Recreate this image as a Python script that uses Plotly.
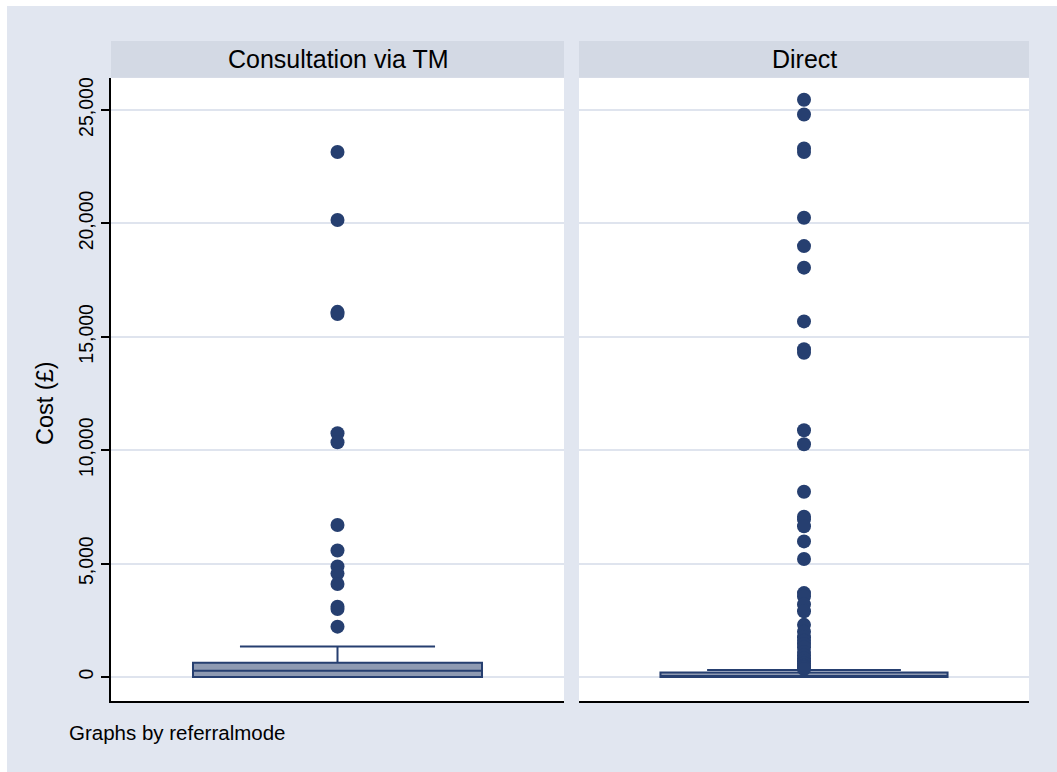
import plotly.graph_objects as go

# ---- data ----
panels = ["Consultation via TM", "Direct"]

tm_q1, tm_median, tm_q3 = 0, 280, 630
tm_lower, tm_upper = 0, 1350
tm_outliers = [23150, 20150, 16100, 16000, 10750, 10350, 6700, 5580,
               4870, 4560, 4100, 3100, 3000, 2220]

dr_q1, dr_median, dr_q3 = 0, 40, 200
dr_lower, dr_upper = 0, 310
dr_outliers = [25450, 24800, 23300, 23150, 20250, 19000, 18050, 15680,
               14450, 14300, 10880, 10260, 8170, 7070, 6950, 6650, 5980,
               5200, 3700, 3550, 3200, 2900, 2300, 2000, 1750, 1600, 1450,
               1300, 1100, 950, 820, 700, 600, 500, 420, 350]

y_ticks = [0, 5000, 10000, 15000, 20000, 25000]
y_ticklabels = ["0", "5,000", "10,000", "15,000", "20,000", "25,000"]

# ---- styling ----
NAVY = "#263f70"
BOXFILL = "#8e9ab2"
BG = "#e1e6f0"
HEAD = "#d3d9e4"
GRID = "#dfe4ee"
FONT = "Liberation Sans, Arial, Helvetica, sans-serif"

W, H = 1057, 772
L, R, T, B = 111, 1029, 78, 701
pw, ph = R - L, B - T


def px_x(p):
    return (p - L) / pw


def px_y(p):
    return (B - p) / ph


fig = go.Figure()

boxes = [
    ("x", "y", tm_q1, tm_median, tm_q3, tm_lower, tm_upper, tm_outliers),
    ("x2", "y2", dr_q1, dr_median, dr_q3, dr_lower, dr_upper, dr_outliers),
]
for xa, ya, q1, med, q3, lo, hi, outs in boxes:
    fig.add_trace(go.Box(
        x=[0], q1=[q1], median=[med], q3=[q3],
        lowerfence=[lo], upperfence=[hi],
        width=1.276, whiskerwidth=0.675,
        fillcolor=BOXFILL, line=dict(color=NAVY, width=2),
        boxpoints=False, xaxis=xa, yaxis=ya, showlegend=False,
        hoverinfo="skip",
    ))
    fig.add_trace(go.Scatter(
        x=[0] * len(outs), y=outs, mode="markers",
        marker=dict(color=NAVY, size=14, line=dict(width=0)),
        xaxis=xa, yaxis=ya, showlegend=False,
    ))

left_dom = [0, px_x(564)]
right_dom = [px_x(579), 1]
yrange = [-1058, 26411]

xcommon = dict(range=[-1, 1], showgrid=False, zeroline=False,
               showticklabels=False, ticks="", showline=True,
               linecolor="black", linewidth=2, fixedrange=True)
fig.update_layout(
    width=W, height=H,
    margin=dict(l=L, r=W - R, t=T, b=H - B, pad=0),
    paper_bgcolor=BG, plot_bgcolor="white",
    font=dict(family=FONT, color="black"),
    xaxis=dict(domain=left_dom, **xcommon),
    xaxis2=dict(domain=right_dom, anchor="y2", **xcommon),
    yaxis=dict(range=yrange, tickvals=y_ticks, ticktext=y_ticklabels,
               tickangle=-90, ticks="outside", ticklen=8, tickwidth=1.5,
               tickcolor="black", showline=True, linecolor="black",
               linewidth=2, showgrid=True, gridcolor=GRID, gridwidth=2,
               zeroline=False, tickfont=dict(size=19.5, family=FONT),
               anchor="x"),
    yaxis2=dict(range=yrange, tickvals=y_ticks, showticklabels=False,
                ticks="", showline=False, showgrid=True, gridcolor=GRID,
                gridwidth=2, zeroline=False, anchor="x2", matches="y"),
)

shapes = [
    # white outer border strips
    dict(type="rect", xref="paper", yref="paper", x0=px_x(0), x1=px_x(W),
         y0=px_y(6), y1=px_y(0), fillcolor="white", line_width=0),
    dict(type="rect", xref="paper", yref="paper", x0=px_x(0), x1=px_x(7),
         y0=px_y(H), y1=px_y(0), fillcolor="white", line_width=0),
    # header strips
    dict(type="rect", xref="paper", yref="paper", x0=left_dom[0],
         x1=left_dom[1], y0=px_y(77.7), y1=px_y(41), fillcolor=HEAD,
         line_width=0),
    dict(type="rect", xref="paper", yref="paper", x0=right_dom[0],
         x1=right_dom[1], y0=px_y(77.7), y1=px_y(41), fillcolor=HEAD,
         line_width=0),
]
fig.update_layout(shapes=shapes)

annotations = [
    dict(text=panels[0], xref="paper", yref="paper",
         x=(left_dom[0] + left_dom[1]) / 2, y=px_y(59.5),
         xanchor="center", yanchor="middle", showarrow=False,
         font=dict(size=25, family=FONT)),
    dict(text=panels[1], xref="paper", yref="paper",
         x=(right_dom[0] + right_dom[1]) / 2, y=px_y(59.5),
         xanchor="center", yanchor="middle", showarrow=False,
         font=dict(size=25, family=FONT)),
    dict(text="Cost (£)", xref="paper", yref="paper", x=px_x(45),
         y=px_y(403), xanchor="center", yanchor="middle", textangle=-90,
         showarrow=False, font=dict(size=23.5, family=FONT)),
    dict(text="Graphs by referralmode", xref="paper", yref="paper",
         x=px_x(67), y=px_y(732), xanchor="left", yanchor="middle",
         showarrow=False, font=dict(size=20.5, family=FONT)),
]
fig.update_layout(annotations=annotations)

fig.write_html(
    "out.html",
    config={"displayModeBar": False},
    post_script="document.body.style.margin='0';"
                "document.body.style.overflow='hidden';",
)
